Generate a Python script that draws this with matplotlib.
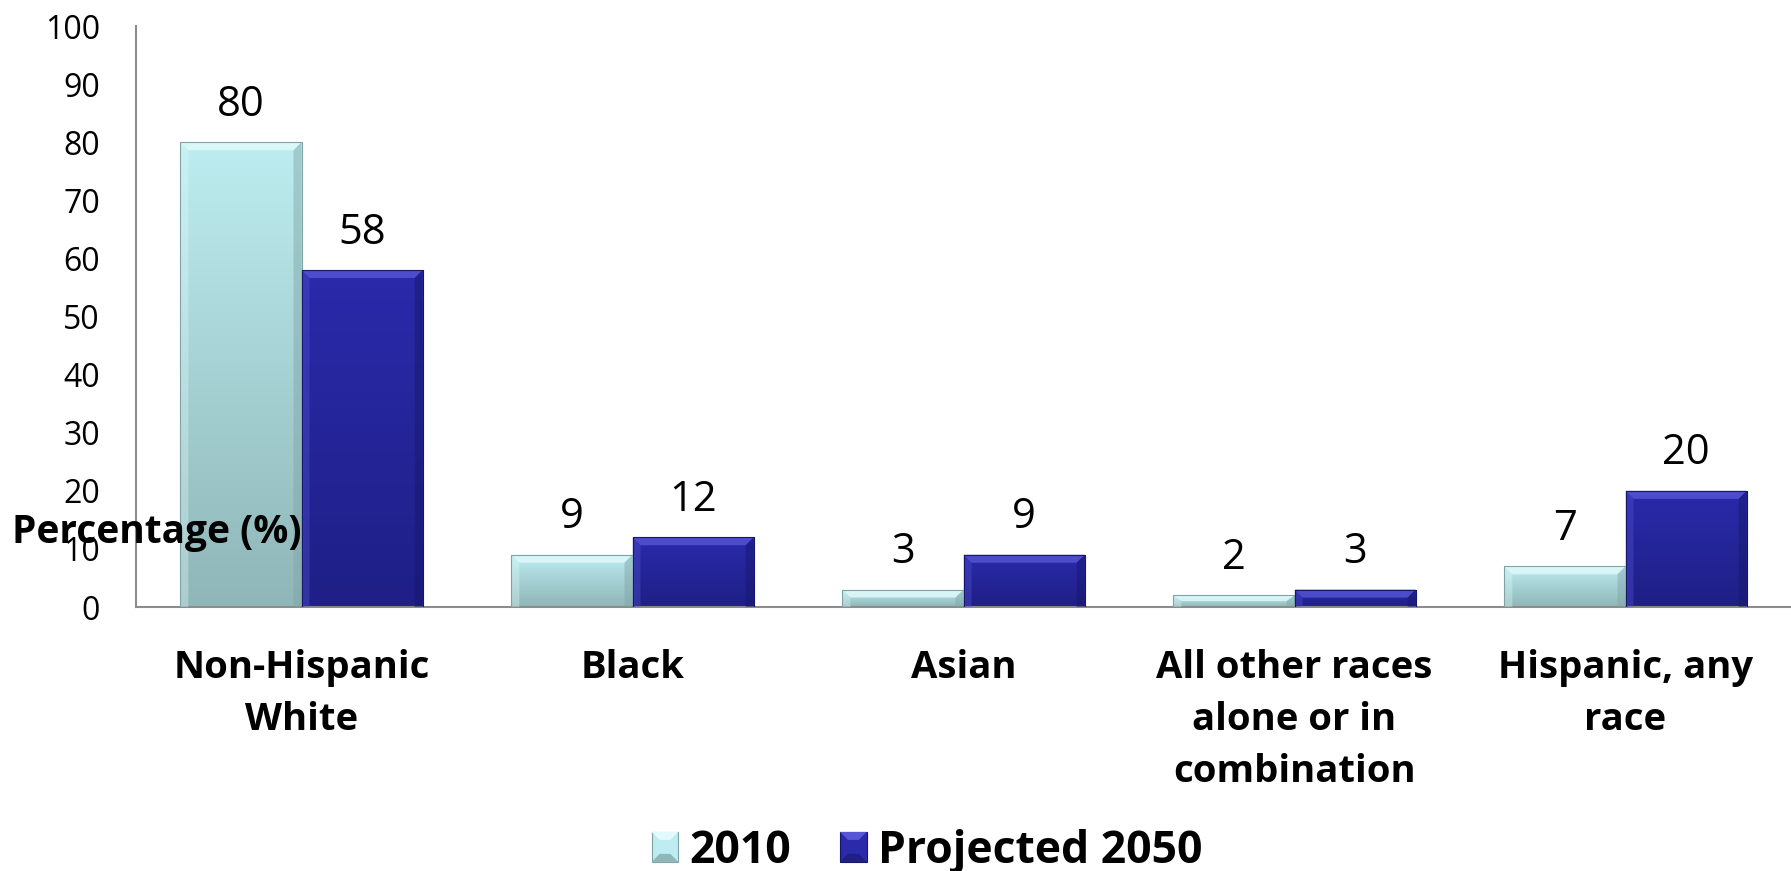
import numpy as np
import matplotlib.pyplot as plt
from matplotlib.patches import Polygon, Rectangle
from matplotlib.colors import LinearSegmentedColormap
from matplotlib.legend_handler import HandlerBase

categories = ["Non-Hispanic\nWhite", "Black", "Asian",
              "All other races\nalone or in\ncombination", "Hispanic, any\nrace"]
values_2010 = [80, 9, 3, 2, 7]
values_2050 = [58, 12, 9, 3, 20]
series_names = ["2010", "Projected 2050"]
yticks = list(range(0, 101, 10))

# colours: (top of body, bottom of body, bevel light, bevel dark)
STYLE_2010 = ("#bdedf0", "#8fb6b8", "#e2fafb", "#7fa3a5")
STYLE_2050 = ("#2a2aab", "#1f1f86", "#5656d6", "#16166a")

W, H, DPI = 1791, 871, 100
plt.rcParams["font.family"] = ["Open Sans", "DejaVu Sans"]

fig = plt.figure(figsize=(W / DPI, H / DPI), dpi=DPI)
ax = fig.add_axes([136 / W, 264 / H, 1 - 136 / W, (607 - 26) / H])
ax.set_xlim(-0.5, len(categories) - 0.5)
ax.set_ylim(0, 100)

# data units per pixel, used to size the bevel
ux = len(categories) / (W - 136)
uy = 100 / (607 - 26)
BEVEL = 8


def bevel_bar(x0, w, h, style):
    top, bot, light, dark = style
    bar = ax.bar(x0, h, w, align="edge", color="none", edgecolor="none", zorder=2)[0]
    cmap = LinearSegmentedColormap.from_list("g", [bot, top])
    grad = np.linspace(0, 1, 256).reshape(-1, 1)
    im = ax.imshow(grad, extent=(x0, x0 + w, 0, h), origin="lower", cmap=cmap,
                   aspect="auto", zorder=2, interpolation="bilinear")
    im.set_clip_path(bar)
    bx = BEVEL * ux
    by = min(BEVEL * uy, h / 2)
    ax.add_patch(Polygon([(x0, h), (x0 + w, h), (x0 + w - bx, h - by), (x0 + bx, h - by)],
                         closed=True, color=light, alpha=0.8, lw=0, zorder=3))
    ax.add_patch(Polygon([(x0, h), (x0 + bx, h - by), (x0 + bx, 0), (x0, 0)],
                         closed=True, color=light, alpha=0.35, lw=0, zorder=3))
    ax.add_patch(Polygon([(x0 + w, h), (x0 + w - bx, h - by), (x0 + w - bx, 0), (x0 + w, 0)],
                         closed=True, color=dark, alpha=0.45, lw=0, zorder=3))
    ax.add_patch(Rectangle((x0, 0), w, h, fill=False, ec=dark, lw=0.8, zorder=4))


bw = 0.366
x = np.arange(len(categories))
for xi, v1, v2 in zip(x, values_2010, values_2050):
    bevel_bar(xi - bw, bw, v1, STYLE_2010)
    bevel_bar(xi, bw, v2, STYLE_2050)
    ax.annotate(f"{v1}", (xi - bw / 2, v1), xytext=(0, 27), textcoords="offset points",
                ha="center", va="center", fontsize=30)
    ax.annotate(f"{v2}", (xi + bw / 2, v2), xytext=(0, 27), textcoords="offset points",
                ha="center", va="center", fontsize=30)

for s in ["top", "right"]:
    ax.spines[s].set_visible(False)
for s in ["left", "bottom"]:
    ax.spines[s].set_color("#8c8c8c")
    ax.spines[s].set_linewidth(1.5)

ax.set_yticks(yticks)
ax.set_yticklabels([str(t) for t in yticks], fontsize=23)
ax.tick_params(axis="y", length=0, pad=26)
ax.set_xticks(x)
ax.set_xticklabels(categories, fontsize=27.5, fontweight="bold", linespacing=1.48)
ax.tick_params(axis="x", length=0, pad=30)

fig.text(12 / W, 1 - 533 / H, "Percentage (%)", fontsize=28, fontweight="bold",
         ha="left", va="center")


class BevelHandler(HandlerBase):
    def __init__(self, style):
        super().__init__()
        self.style = style

    def create_artists(self, legend, orig_handle, xdescent, ydescent, width, height,
                       fontsize, trans):
        top, bot, light, dark = self.style
        x0, y0 = -xdescent, -ydescent
        b = min(width, height) * 0.3
        arts = [Rectangle((x0, y0), width, height, fc=top, ec=dark, lw=0.8)]
        arts.append(Polygon([(x0, y0 + height), (x0 + width, y0 + height),
                             (x0 + width - b, y0 + height - b), (x0 + b, y0 + height - b)],
                            closed=True, fc=light, lw=0))
        arts.append(Polygon([(x0, y0), (x0 + width, y0), (x0 + width - b, y0 + b), (x0 + b, y0 + b)],
                            closed=True, fc=bot, lw=0))
        for a in arts:
            a.set_transform(trans)
        return arts


h1 = Rectangle((0, 0), 1, 1)
h2 = Rectangle((0, 0), 1, 1)
leg = fig.legend([h1, h2], series_names, loc="center", bbox_to_anchor=(927 / W, 1 - 851 / H),
                 ncol=2, frameon=False, prop={"size": 32, "weight": "bold"},
                 handlelength=0.6, handleheight=0.66, handletextpad=0.25,
                 columnspacing=1.1, borderaxespad=0, borderpad=0,
                 handler_map={h1: BevelHandler(STYLE_2010), h2: BevelHandler(STYLE_2050)})

fig.savefig("out.png", dpi=DPI, facecolor="white")
